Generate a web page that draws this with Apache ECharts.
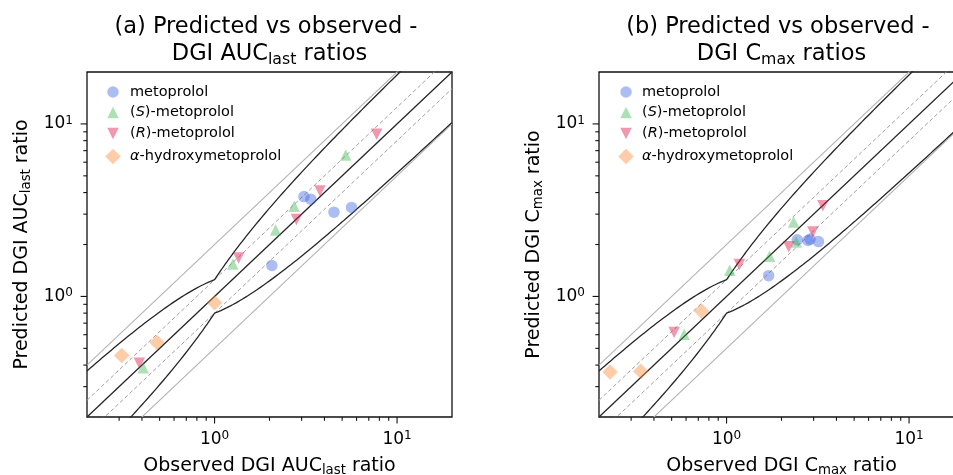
<!DOCTYPE html>
<html>
<head>
<meta charset="utf-8">
<script src="https://cdn.jsdelivr.net/npm/echarts@6/dist/echarts.min.js"></script>
<style>
  html, body { margin: 0; padding: 0; background: #fff; }
  #chart { width: 953px; height: 475px; }
</style>
</head>
<body>
<div id="chart"></div>
<script>
// Shared log-axis limits and tick values
const AXIS_MIN = 0.2;
const AXIS_MAX = 20;
const MAJOR_TICKS = [1, 10];
const MINOR_TICKS = [0.3, 0.4, 0.5, 0.6, 0.7, 0.8, 0.9, 2, 3, 4, 5, 6, 7, 8, 9];

// Acceptance bands: 2-fold, 1.25-fold, and Guest et al. limits with delta = 1.25
const FOLD_OUTER = 2;
const FOLD_INNER = 1.25;
const GUEST_DELTA = 1.25;

// Compound names
const compounds = ['metoprolol', '(S)-metoprolol', '(R)-metoprolol', 'α-hydroxymetoprolol'];

// (a) DGI AUClast ratios: observed / predicted
const aucMetoprololObs  = [3.09, 3.37, 4.51, 5.63, 2.06];
const aucMetoprololPred = [3.79, 3.66, 3.08, 3.28, 1.51];
const aucSObs  = [5.23, 2.73, 2.16, 1.26, 0.407];
const aucSPred = [6.6, 3.33, 2.43, 1.54, 0.386];
const aucRObs  = [7.73, 3.78, 2.81, 1.355, 0.387];
const aucRPred = [8.7, 4.08, 2.79, 1.67, 0.41];
const aucOhObs  = [1.0, 0.484, 0.31];
const aucOhPred = [0.92, 0.54, 0.455];

// (b) DGI Cmax ratios: observed / predicted
const cmaxMetoprololObs  = [2.44, 2.79, 2.87, 3.19, 1.70];
const cmaxMetoprololPred = [2.13, 2.11, 2.15, 2.08, 1.32];
const cmaxSObs  = [2.33, 2.41, 1.72, 1.04, 0.586];
const cmaxSPred = [2.7, 2.07, 1.71, 1.42, 0.603];
const cmaxRObs  = [3.37, 2.97, 2.19, 1.175, 0.516];
const cmaxRPred = [3.36, 2.36, 1.94, 1.53, 0.618];
const cmaxOhObs  = [0.729, 0.23, 0.339];
const cmaxOhPred = [0.822, 0.365, 0.368];

const FONT = 'DejaVu Sans';

// Marker look for each compound
const markerStyles = [
  { symbol: 'circle', size: 11.5, color: 'rgba(65,105,225,0.55)' },
  { symbol: 'path://M1,0L2,2L0,2Z', size: 11.5, color: 'rgba(50,180,70,0.5)' },
  { symbol: 'path://M0,0L2,0L1,2Z', size: 11.5, color: 'rgba(220,20,70,0.55)' },
  { symbol: 'path://M1,0L2,1L1,2L0,1Z', size: 15.5, color: 'rgba(250,140,60,0.55)' }
];

function zip(xs, ys) { return xs.map((x, i) => [x, ys[i]]); }

// Guest et al. (2011) limit for a given observed ratio
function guestLimit(r) {
  const R = r >= 1 ? r : 1 / r;
  return (GUEST_DELTA + 2 * (R - 1)) / R;
}

// Observed-ratio grid for drawing the Guest curves (log spaced, incl. 1)
const guestGrid = (() => {
  const a = Math.log10(AXIS_MIN), b = Math.log10(AXIS_MAX), n = 240;
  const pts = [];
  for (let i = 0; i <= n; i++) pts.push(Math.pow(10, a + (b - a) * i / n));
  pts.push(1);
  return pts.sort((p, q) => p - q);
})();

function powerLabel(v) {
  const e = Math.log10(v);
  const k = Math.round(e);
  if (Math.abs(e - k) > 1e-6) return '';
  return '10{sup|' + k + '}';
}

function legendLabel(name) {
  return name
    .replace('(S)', '({it|S})')
    .replace('(R)', '({it|R})')
    .replace('α', '{it|α}');
}

const tickLabelStyle = {
  color: '#000', fontFamily: FONT, fontSize: 17, lineHeight: 19,
  rich: { sup: { fontFamily: FONT, fontSize: 12, lineHeight: 11, verticalAlign: 'top', color: '#000' } }
};

const axisNameStyle = {
  color: '#000', fontFamily: FONT, fontSize: 19, lineHeight: 22,
  rich: { sub: { fontFamily: FONT, fontSize: 13.3, lineHeight: 9, verticalAlign: 'bottom', color: '#000' } }
};

function makeXAxis(i, name) {
  return {
    type: 'log', logBase: 10, gridIndex: i, min: AXIS_MIN, max: AXIS_MAX,
    axisLine: { show: false }, axisTick: { show: false }, splitLine: { show: false },
    axisLabel: Object.assign({ formatter: powerLabel, margin: 13 }, tickLabelStyle),
    name: name, nameLocation: 'middle', nameGap: 38.5, nameMoveOverlap: false,
    nameTextStyle: axisNameStyle
  };
}

function makeYAxis(i, name) {
  return {
    type: 'log', logBase: 10, gridIndex: i, min: AXIS_MIN, max: AXIS_MAX,
    axisLine: { show: false }, axisTick: { show: false }, splitLine: { show: false },
    axisLabel: Object.assign({ formatter: powerLabel, margin: 14 }, tickLabelStyle),
    name: name, nameLocation: 'middle', nameGap: 54, nameMoveOverlap: false,
    nameTextStyle: axisNameStyle
  };
}

function refLine(i, pts, color, width, type) {
  return {
    type: 'line', xAxisIndex: i, yAxisIndex: i, data: pts, symbol: 'none',
    silent: true, z: 2, lineStyle: { color: color, width: width, type: type }
  };
}

// Axis ticks drawn on the frame: outward, long at decades, short in between
function tickSeries(i, dir) {
  const data = MAJOR_TICKS.map(v => [v, v, 1]).concat(MINOR_TICKS.map(v => [v, v, 0]));
  return {
    type: 'custom', xAxisIndex: i, yAxisIndex: i, data: data, silent: true, clip: false, z: 6,
    renderItem: function (params, api) {
      const v = api.value(0);
      const len = api.value(2) ? 6.4 : 3.7;
      const style = { stroke: '#111', lineWidth: 1.1 };
      if (dir === 'x') {
        const p = api.coord([v, AXIS_MIN]);
        return { type: 'line', shape: { x1: p[0], y1: p[1], x2: p[0], y2: p[1] + len }, style: style };
      }
      const p = api.coord([AXIS_MIN, v]);
      return { type: 'line', shape: { x1: p[0] - len, y1: p[1], x2: p[0], y2: p[1] }, style: style };
    }
  };
}

function panelSeries(i, groups) {
  const list = [];
  const ends = [AXIS_MIN, AXIS_MAX];
  list.push(refLine(i, ends.map(x => [x, x * FOLD_OUTER]), '#b3b3b3', 1.1, 'solid'));
  list.push(refLine(i, ends.map(x => [x, x / FOLD_OUTER]), '#b3b3b3', 1.1, 'solid'));
  list.push(refLine(i, ends.map(x => [x, x * FOLD_INNER]), '#a0a0a0', 1, [4, 2.5]));
  list.push(refLine(i, ends.map(x => [x, x / FOLD_INNER]), '#a0a0a0', 1, [4, 2.5]));
  list.push(refLine(i, ends.map(x => [x, x]), '#262626', 1.3, 'solid'));
  list.push(refLine(i, guestGrid.map(x => [x, x * guestLimit(x)]), '#262626', 1.3, 'solid'));
  list.push(refLine(i, guestGrid.map(x => [x, x / guestLimit(x)]), '#262626', 1.3, 'solid'));
  groups.forEach((g, k) => {
    const m = markerStyles[k];
    list.push({
      type: 'scatter', name: compounds[k], xAxisIndex: i, yAxisIndex: i,
      data: zip(g[0], g[1]), symbol: m.symbol, symbolSize: m.size,
      itemStyle: { color: m.color }, z: 4, silent: true
    });
  });
  list.push(tickSeries(i, 'x'));
  list.push(tickSeries(i, 'y'));
  return list;
}

const LEGEND_ROWS = [92, 112.5, 133.5, 156.5];

// One legend entry per row so each marker keeps its own size
function panelLegends(iconCenter, textLeft) {
  return compounds.map((name, k) => {
    const s = markerStyles[k].size;
    const gap = textLeft - (iconCenter + s / 2 + 5);
    return {
      data: [name], left: iconCenter - s / 2, top: LEGEND_ROWS[k] - 8, orient: 'vertical',
      padding: 0, itemWidth: s, itemHeight: s, symbolKeepAspect: true,
      selectedMode: false, formatter: legendLabel,
      textStyle: {
        color: '#000', fontFamily: FONT, fontSize: 14.5, lineHeight: 16, padding: [0, 0, 0, gap],
        rich: { it: { fontFamily: FONT, fontSize: 14.5, lineHeight: 16, fontStyle: 'italic', color: '#000' } }
      }
    };
  });
}

function titleText(x, text) {
  return {
    type: 'text', x: x, y: 14, silent: true,
    style: {
      text: text, fill: '#000', fontFamily: FONT, fontSize: 22.5, lineHeight: 27,
      align: 'center', verticalAlign: 'top',
      rich: { sub: { fill: '#000', fontFamily: FONT, fontSize: 15.75, lineHeight: 10, verticalAlign: 'bottom' } }
    }
  };
}

const chart = echarts.init(document.getElementById('chart'), null, { renderer: 'canvas' });

chart.setOption({
  animation: false,
  backgroundColor: '#fff',
  grid: [
    { left: 87, top: 72, width: 365, height: 345, show: true, borderColor: '#111', borderWidth: 1.3, backgroundColor: 'transparent', outerBoundsMode: 'none', containLabel: false },
    { left: 599, top: 72, width: 365, height: 345, show: true, borderColor: '#111', borderWidth: 1.3, backgroundColor: 'transparent', outerBoundsMode: 'none', containLabel: false }
  ],
  xAxis: [
    makeXAxis(0, 'Observed DGI AUC{sub|last} ratio'),
    makeXAxis(1, 'Observed DGI C{sub|max} ratio')
  ],
  yAxis: [
    makeYAxis(0, 'Predicted DGI AUC{sub|last} ratio'),
    makeYAxis(1, 'Predicted DGI C{sub|max} ratio')
  ],
  legend: panelLegends(113, 130).concat(panelLegends(626, 642)),
  graphic: [
    titleText(269.5, '(a) Predicted vs observed - \nDGI AUC{sub|last} ratios'),
    titleText(781.5, '(b) Predicted vs observed - \nDGI C{sub|max} ratios')
  ],
  series: panelSeries(0, [
    [aucMetoprololObs, aucMetoprololPred],
    [aucSObs, aucSPred],
    [aucRObs, aucRPred],
    [aucOhObs, aucOhPred]
  ]).concat(panelSeries(1, [
    [cmaxMetoprololObs, cmaxMetoprololPred],
    [cmaxSObs, cmaxSPred],
    [cmaxRObs, cmaxRPred],
    [cmaxOhObs, cmaxOhPred]
  ]))
});
</script>
</body>
</html>
